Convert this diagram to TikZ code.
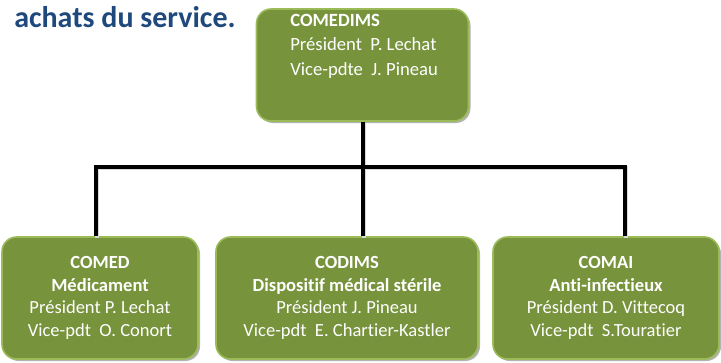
\documentclass[tikz,border=0pt]{standalone}
\usepackage{fontspec}
\setmainfont{Carlito}[Ligatures={NoCommon}]
\usetikzlibrary{shadows}
\definecolor{boxfill}{RGB}{119,147,60}
\definecolor{boxline}{RGB}{155,187,89}
\definecolor{titleblue}{RGB}{31,73,125}
\tikzset{
  orgbox/.style={draw=boxline, line width=1.2pt, fill=boxfill, rounded corners=11pt,
    drop shadow={shadow xshift=1.5pt, shadow yshift=-1.5pt, opacity=0.3, fill=black},
    text=white, align=center, inner sep=0pt},
  boxtext/.style={text=white, font=\fontsize{13.9pt}{16.8pt}\selectfont, align=center, inner sep=0pt},
  conn/.style={draw=black, line width=3pt},
  connshadow/.style={draw=black!15, line width=3pt}
}
\begin{document}
\begin{tikzpicture}[x=0.75pt,y=-0.75pt]
\useasboundingbox (0,0) rectangle (721,362);
% title
\node[anchor=base west, inner sep=0pt, text=titleblue, font=\fontsize{22.5pt}{27pt}\selectfont\bfseries] (title) at (14,27) {achats du service.};
% boxes
\node[orgbox, minimum width=212*0.75pt, minimum height=112*0.75pt] (comedims) at (362.5,65) {};
\node[anchor=north west, inner sep=0pt, text=white, align=left,
      font=\fontsize{14pt}{18.3pt}\selectfont] (comedimstext) at (290,14)
  {\textbf{COMEDIMS}\\Président\ \ P. Lechat\\Vice-pdte\ \ J. Pineau};
\node[orgbox, boxtext, minimum width=196*0.75pt, minimum height=122*0.75pt] (comed) at (100,298)
  {\textbf{COMED}\\\textbf{Médicament}\\Président P. Lechat\\Vice-pdt\ \ O. Conort};
\node[orgbox, boxtext, minimum width=262*0.75pt, minimum height=122*0.75pt] (codims) at (347,298)
  {\textbf{CODIMS}\\\textbf{Dispositif médical stérile}\\Président J. Pineau\\Vice-pdt\ \ E. Chartier-Kastler};
\node[orgbox, boxtext, minimum width=226*0.75pt, minimum height=122*0.75pt] (comai) at (606,298)
  {\textbf{COMAI}\\\textbf{Anti-infectieux}\\Président D. Vittecoq\\Vice-pdt\ \ S.Touratier};
% connectors
\coordinate (jL) at (96,167);
\coordinate (jR) at (625,167);
\coordinate (jM) at (comedims.south |- jL);
\begin{scope}[transform canvas={xshift=1pt,yshift=-1pt}]
\draw[connshadow] (comedims.south) -- (jM);
\draw[connshadow] (jL |- comed.north) -- (jL) -- (jR) -- (jR |- comai.north);
\draw[connshadow] (jM) -- (jM |- codims.north);
\end{scope}
\draw[conn] (comedims.south) -- (jM);
\draw[conn] (jL |- comed.north) -- (jL) -- (jR) -- (jR |- comai.north);
\draw[conn] (jM) -- (jM |- codims.north);
\end{tikzpicture}
\end{document}
